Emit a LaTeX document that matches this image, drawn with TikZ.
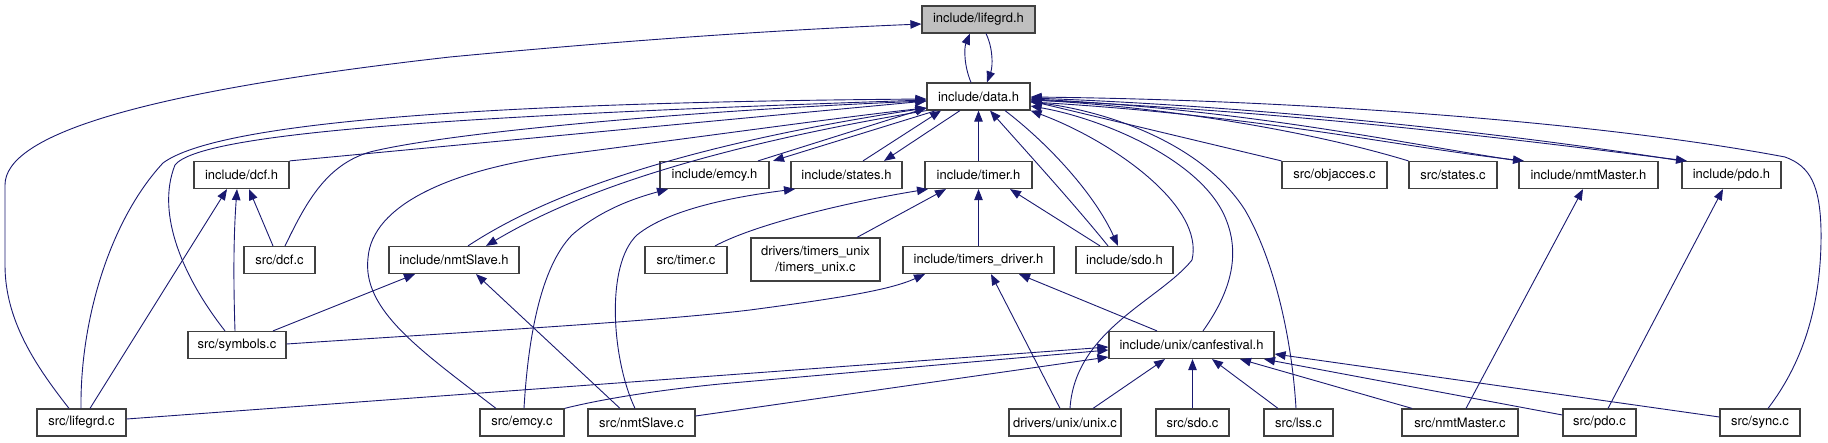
\documentclass[tikz,border=0pt]{standalone}
\usepackage{fontspec}
\setmainfont{TeX Gyre Heros}
\usetikzlibrary{arrows.meta}
\definecolor{edgeblue}{RGB}{25,25,112}
\definecolor{boxline}{RGB}{64,64,64}
\definecolor{boxgray}{RGB}{191,191,191}
\tikzset{
  nd/.style={draw=boxline, line width=1.2pt, fill=white, inner sep=0pt, align=center,
    font=\fontsize{13}{16}\selectfont, minimum height=27pt},
  ed/.style={draw=edgeblue, line width=0.9pt, -{Triangle[length=11pt,width=8.5pt]}},
}
\begin{document}
\begin{tikzpicture}[x=1pt,y=-1pt]
\path[use as bounding box] (0,0) rectangle (1828,443);
% row 0
\node[nd, fill=boxgray, minimum width=113pt] (lifegrdH) at (978.5,19.5) {include/lifegrd.h};
% row 1
\node[nd, minimum width=103pt] (dataH) at (978.5,96.5) {include/data.h};
% row 2
\node[nd, minimum width=95pt]  (dcfH) at (241.5,175) {include/dcf.h};
\node[nd, minimum width=109pt] (emcyH) at (714.5,175) {include/emcy.h};
\node[nd, minimum width=111pt] (statesH) at (846.5,175) {include/states.h};
\node[nd, minimum width=107pt] (timerH) at (978.5,175) {include/timer.h};
\node[nd, minimum width=105pt] (objaccesC) at (1334.5,175) {src/objacces.c};
\node[nd, minimum width=88pt]  (statesC) at (1453,175) {src/states.c};
\node[nd, minimum width=139pt] (nmtMasterH) at (1588.5,175) {include/nmtMaster.h};
\node[nd, minimum width=99pt]  (pdoH) at (1731.5,175) {include/pdo.h};
% row 3
\node[nd, minimum width=71pt]  (dcfC) at (279.5,260) {src/dcf.c};
\node[nd, minimum width=130pt] (nmtSlaveH) at (454,260) {include/nmtSlave.h};
\node[nd, minimum width=82pt]  (timerC) at (686,260) {src/timer.c};
\node[nd, minimum width=129pt, minimum height=43pt] (timersunixC) at (815.5,259.5) {drivers/timers\_unix\\/timers\_unix.c};
\node[nd, minimum width=151pt] (timersdriverH) at (978.5,260) {include/timers\_driver.h};
\node[nd, minimum width=97pt]  (sdoH) at (1124.5,260) {include/sdo.h};
% row 4
\node[nd, minimum width=98pt]  (symbolsC) at (237,345) {src/symbols.c};
\node[nd, minimum width=165pt] (canfestivalH) at (1191.5,345) {include/unix/canfestival.h};
% row 5
\node[nd, minimum width=89pt]  (lifegrdC) at (81.5,422.5) {src/lifegrd.c};
\node[nd, minimum width=84pt]  (emcyC) at (522,422.5) {src/emcy.c};
\node[nd, minimum width=107pt] (nmtSlaveC) at (641.5,422.5) {src/nmtSlave.c};
\node[nd, minimum width=112pt] (unixC) at (1065,422.5) {drivers/unix/unix.c};
\node[nd, minimum width=73pt]  (sdoC) at (1192.5,422.5) {src/sdo.c};
\node[nd, minimum width=69pt]  (lssC) at (1298.5,422.5) {src/lss.c};
\node[nd, minimum width=116pt] (nmtMasterC) at (1460,422.5) {src/nmtMaster.c};
\node[nd, minimum width=73pt]  (pdoC) at (1599.5,422.5) {src/pdo.c};
\node[nd, minimum width=80pt]  (syncC) at (1760,422.5) {src/sync.c};

% lifegrd.h <-> data.h
\draw[ed] (dataH.north -| 971,0) .. controls (964,66) and (964,48) .. (lifegrdH.south -| 970,0);
\draw[ed] (lifegrdH.south -| 986,0) .. controls (993,48) and (993,66) .. (dataH.north -| 987,0);
\draw[ed] (lifegrdC.north -| 69,0) .. controls (35,365) and (5,320) .. (5,265) -- (5,185) .. controls (5,135) and (140,92) .. (450,57) .. controls (650,38) and (800,29) .. (lifegrdH.west |- 0,24);

% left fan into data.h
\draw[ed] (lifegrdC.north -| 81,0) .. controls (80,320) and (110,220) .. (163,163) .. controls (210,128) and (420,103) .. (dataH.west |- 0,99);
\draw[ed] (symbolsC.north -| 225,0) .. controls (185,280) and (155,215) .. (175,165) .. controls (200,133) and (450,116) .. (dataH.west |- 0,100);
\draw[ed] (dcfC.north -| 285,0) .. controls (305,205) and (325,165) .. (370,152) .. controls (450,132) and (700,110) .. (dataH.west |- 0,101);
\draw[ed] (dcfH.north east) -- (dataH.west |- 0,101);
\draw[ed] (emcyC.north -| 496,0) .. controls (420,350) and (362,310) .. (368,258) .. controls (372,205) and (450,170) .. (560,155) .. controls (700,137) and (850,116) .. (dataH.west |- 0,108);
\draw[ed] (nmtSlaveH.north -| 468,0) .. controls (530,205) and (650,150) .. (dataH.west |- 0,108);
\draw[ed] (dataH.south west) .. controls (660,155) and (550,208) .. (nmtSlaveH.north -| 486,0);
\draw[ed] (emcyH.north -| 758,0) -- (dataH.west |- 0,108);
\draw[ed] (dataH.south -| 936,0) -- (emcyH.north -| 773,0);
\draw[ed] (statesH.north -| 863,0) -- (dataH.south -| 941,0);
\draw[ed] (dataH.south -| 960,0) -- (statesH.north -| 884,0);
\draw[ed] (timerH.north) -- (dataH.south);

% dcf.h
\draw[ed] (lifegrdC.north -| 90,0) -- (dcfH.south -| 227,0);
\draw[ed] (symbolsC.north -| 235,0) .. controls (233,270) and (234,230) .. (dcfH.south -| 237,0);
\draw[ed] (dcfC.north -| 273,0) -- (dcfH.south -| 249,0);

% nmtSlave.h, emcy.h, states.h
\draw[ed] (symbolsC.north -| 273,0) -- (nmtSlaveH.south -| 415,0);
\draw[ed] (nmtSlaveC.north -| 620,0) -- (nmtSlaveH.south -| 476,0);
\draw[ed] (emcyC.north -| 524,0) .. controls (528,340) and (540,268) .. (572,235) .. controls (600,210) and (635,198) .. (emcyH.south -| 668,0);
\draw[ed] (nmtSlaveC.north -| 635,0) .. controls (612,360) and (605,265) .. (637,235) .. controls (670,208) and (740,196) .. (statesH.south -| 795,0);

% timer.h
\draw[ed] (timerC.north -| 715,0) .. controls (760,222) and (860,200) .. (timerH.south -| 928,0);
\draw[ed] (timersunixC.north -| 857,0) -- (timerH.south -| 946,0);
\draw[ed] (timersdriverH.north) -- (timerH.south);
\draw[ed] (sdoH.north -| 1100,0) -- (timerH.south -| 1010,0);

% sdo.h <-> data.h
\draw[ed] (sdoH.north -| 1108,0) .. controls (1075,205) and (1025,150) .. (dataH.south -| 990,0);
\draw[ed] (dataH.south -| 1005,0) .. controls (1050,145) and (1095,195) .. (sdoH.north -| 1118,0);

% timers_driver.h
\draw[ed] (symbolsC.east |- 0,344) .. controls (450,333) and (650,322) .. (750,310) .. controls (840,298) and (890,290) .. (timersdriverH.south -| 925,0);
\draw[ed] (unixC.north -| 1060,0) -- (timersdriverH.south -| 991,0);
\draw[ed] (canfestivalH.north -| 1157,0) -- (timersdriverH.south -| 1019,0);

% right side into data.h
\draw[ed] (unixC.north -| 1070,0) .. controls (1075,330) and (1160,300) .. (1192,260) .. controls (1205,205) and (1110,140) .. (dataH.south east);
\draw[ed] (canfestivalH.north -| 1203,0) .. controls (1225,300) and (1242,262) .. (1227,222) .. controls (1205,160) and (1100,118) .. (dataH.east |- 0,106);
\draw[ed] (lssC.north -| 1296,0) .. controls (1292,340) and (1275,262) .. (1245,210) .. controls (1200,140) and (1100,110) .. (dataH.east |- 0,102);
\draw[ed] (objaccesC.north west) -- (dataH.east |- 0,101);
\draw[ed] (statesC.north west) .. controls (1300,128) and (1150,106) .. (dataH.east |- 0,100);
\draw[ed] (nmtMasterH.north west) .. controls (1400,143) and (1250,110) .. (dataH.east |- 0,99);
\draw[ed] (dataH.east |- 0,102) .. controls (1250,114) and (1400,147) .. (nmtMasterH.north -| 1524,0);
\draw[ed] (pdoH.north west) .. controls (1550,140) and (1300,108) .. (dataH.east |- 0,98);
\draw[ed] (dataH.east |- 0,100) .. controls (1300,111) and (1550,144) .. (pdoH.north -| 1687,0);
\draw[ed] (syncC.north -| 1768,0) .. controls (1805,360) and (1822,300) .. (1821,230) .. controls (1820,185) and (1810,166) .. (1785,157) .. controls (1600,122) and (1300,100) .. (dataH.east |- 0,97);

% canfestival.h
\draw[ed] (lifegrdC.east |- 0,419) -- (canfestivalH.west |- 0,347);
\draw[ed] (emcyC.north east) .. controls (590,402) and (640,392) .. (720,384) -- (canfestivalH.west |- 0,350);
\draw[ed] (nmtSlaveC.east |- 0,416) -- (canfestivalH.west |- 0,357);
\draw[ed] (unixC.north -| 1093,0) -- (canfestivalH.south -| 1165,0);
\draw[ed] (sdoC.north) -- (sdoC.north |- canfestivalH.south);
\draw[ed] (lssC.north -| 1278,0) -- (canfestivalH.south -| 1212,0);
\draw[ed] (nmtMasterC.north -| 1412,0) -- (canfestivalH.south -| 1240,0);
\draw[ed] (pdoC.west |- 0,415) -- (canfestivalH.south -| 1264,0);
\draw[ed] (syncC.west |- 0,417) -- (canfestivalH.east |- 0,354);

% nmtMaster.h, pdo.h
\draw[ed] (nmtMasterC.north -| 1466,0) -- (nmtMasterH.south -| 1583,0);
\draw[ed] (pdoC.north -| 1608,0) -- (pdoH.south -| 1723,0);
\end{tikzpicture}
\end{document}
